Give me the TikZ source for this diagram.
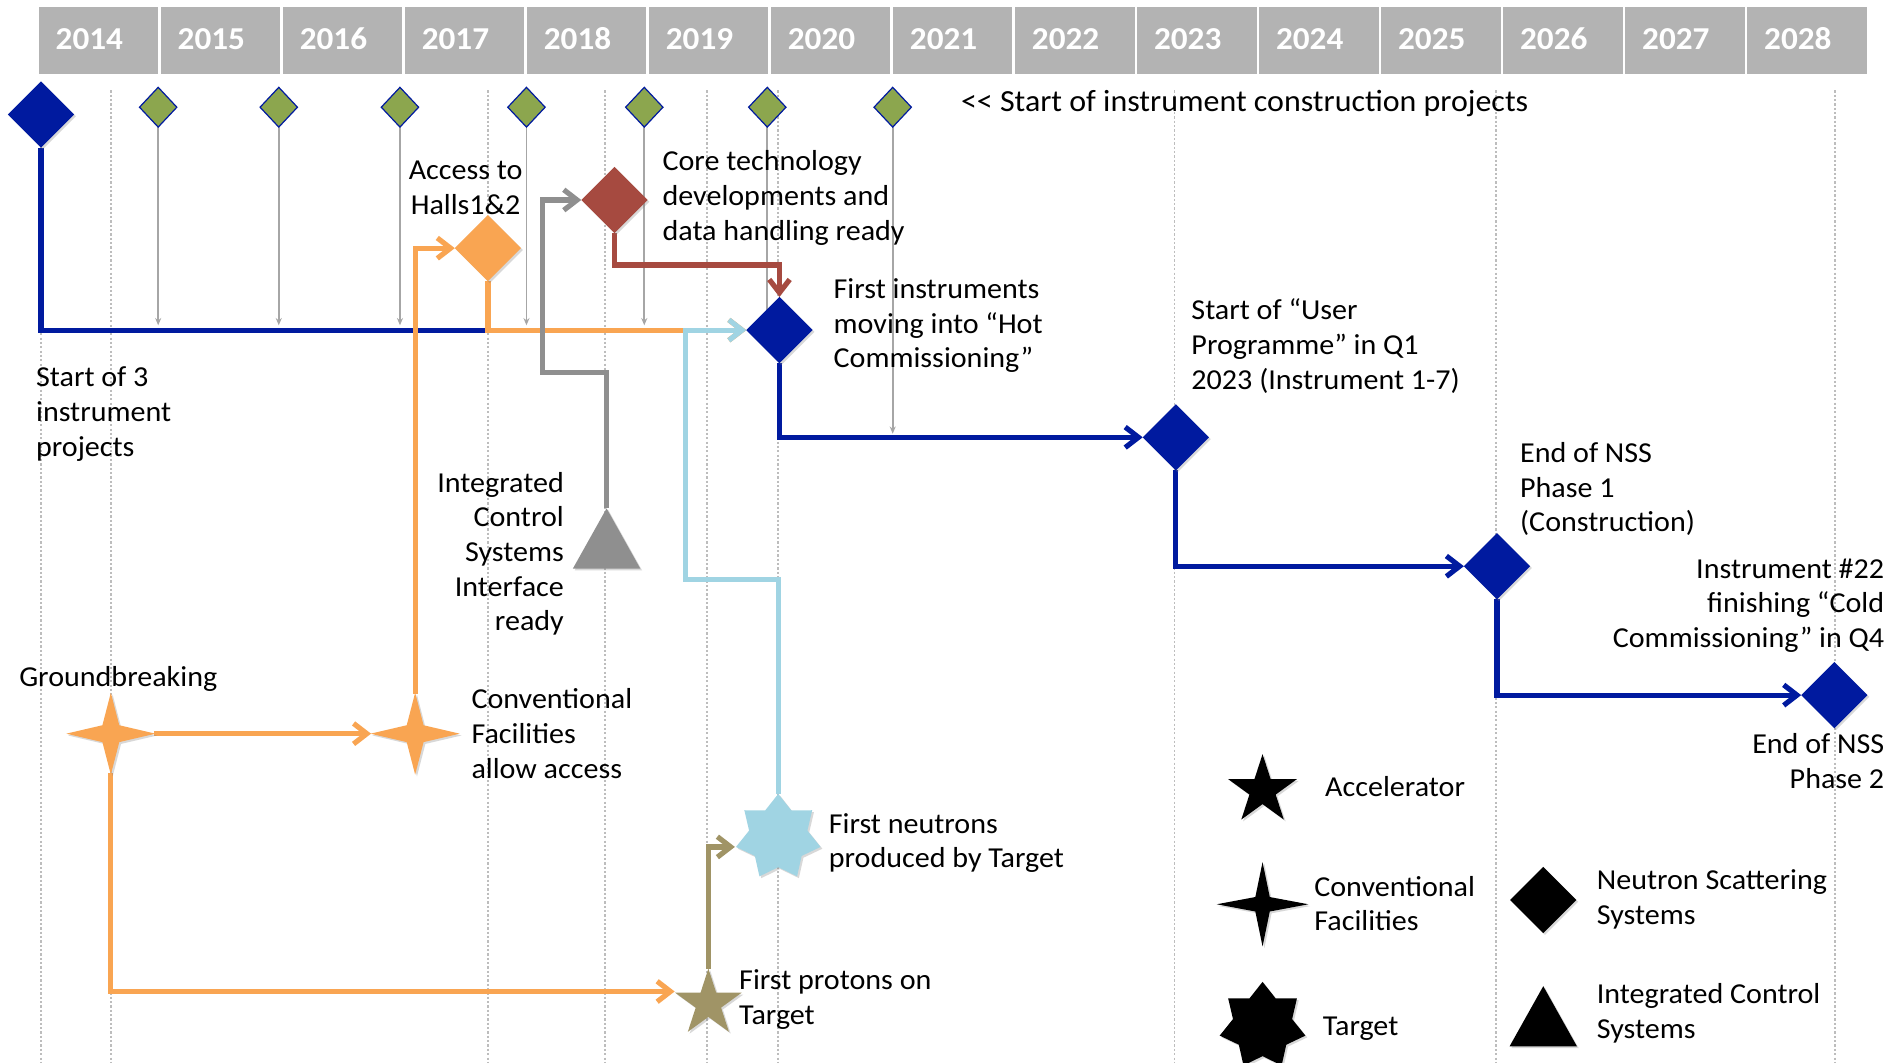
\documentclass[tikz,border=0pt]{standalone}
\usepackage{fontspec}
\setmainfont{Carlito}[FakeStretch=1.04]
\usetikzlibrary{shapes.geometric,arrows.meta,calc,shadows}
\definecolor{nssblue}{HTML}{001A9F}
\definecolor{gdia}{HTML}{8CA64E}
\definecolor{coreRed}{HTML}{A64A40}
\definecolor{cfOrange}{HTML}{F9A552}
\definecolor{tgtBlue}{HTML}{A0D4E3}
\definecolor{accTan}{HTML}{A09466}
\definecolor{icsGray}{HTML}{8F8F8F}
\definecolor{hdrGray}{HTML}{B3B3B3}
\definecolor{gridGray}{HTML}{BDBDBD}
\definecolor{feedGray}{HTML}{A6A6A6}
\pgfdeclarelayer{bglayer}
\pgfdeclarelayer{gridlayer}
\pgfdeclarelayer{linelayer}
\pgfsetlayers{bglayer,gridlayer,linelayer,main}
\begin{document}
\begin{tikzpicture}[x=1pt,y=-1pt,
  shd/.style={drop shadow={opacity=0.3,shadow xshift=1.5pt,shadow yshift=-1.5pt}},
  bigdia/.style={diamond, minimum width=55pt, minimum height=55pt, inner sep=0pt, outer sep=0pt, fill=nssblue, shd},
  smalldia/.style={diamond, minimum width=31pt, minimum height=33pt, inner sep=0pt, outer sep=0pt, fill=gdia, draw=nssblue, line width=1pt},
  starfive/.style={star, star points=5, star point ratio=2.618, minimum size=58pt, inner sep=0pt, outer sep=0pt, shd},
  starseven/.style={star, star points=7, star point ratio=1.45, minimum size=72pt, inner sep=0pt, outer sep=0pt, shd},
  conn/.style={line width=4.3pt, -{Straight Barb[length=11pt,width=17pt]}},
  seg/.style={line width=4.3pt},
  feeder/.style={draw=feedGray, line width=1.5pt, -{Stealth[length=6pt,width=5pt]}},
  gridln/.style={draw=gridGray, line width=1.3pt, dash pattern=on 1.8pt off 1.8pt},
  yeartext/.style={font=\fontsize{26.5}{30}\selectfont\bfseries, text=white, inner sep=0pt},
  lbl/.style={font=\fontsize{24}{28.8}\selectfont, inner sep=0pt, outer sep=0pt}
]
\useasboundingbox (0,0) rectangle (1568,882);
\begin{pgfonlayer}{bglayer}
\fill[white] (0,0) rectangle (1568,882);
\end{pgfonlayer}

% grid
\begin{pgfonlayer}{gridlayer}
\foreach \x in {34,92,405,502,587,646,975,1242,1523}
  \draw[gridln] (\x,75) -- (\x,882);
\end{pgfonlayer}

% header
\foreach \i/\y in {0/2014,1/2015,2/2016,3/2017,4/2018,5/2019,6/2020,7/2021,8/2022,9/2023,10/2024,11/2025,12/2026,13/2027,14/2028} {
  \pgfmathsetmacro\xl{31+101.3*\i+1}
  \pgfmathsetmacro\xr{31+101.3*(\i+1)-1}
  \pgfmathsetmacro\xc{31+101.3*(\i+0.5)-7.5}
  \fill[hdrGray] (\xl,6) rectangle (\xr,61.5);
  \node[yeartext, anchor=base] (yr\y) at (\xc,41) {\y};
}

% green diamonds
\foreach \n/\x in {1/131.3,2/231.4,3/332,4/437,5/534.8,6/636.9,7/741}
  \node[smalldia] (g\n) at (\x,89) {};

% milestone shapes
\node[bigdia] (d14) at (34,95) {};
\node[bigdia] (d20) at (647,274) {};
\node[bigdia] (dUP) at (976,363) {};
\node[bigdia] (dP1) at (1242.6,470) {};
\node[bigdia] (dP2) at (1522.6,577) {};
\node[bigdia, fill=cfOrange] (hall) at (405,206) {};
\node[bigdia, fill=coreRed] (core) at (510,166) {};
\node[starseven, fill=tgtBlue] (neut) at (646,695) {};
\node[starfive, fill=accTan] (fp) at (588,833) {};

% four point stars (conventional facilities)
\coordinate (gb) at (92,609);
\coordinate (cf) at (344.6,609);
\foreach \c in {gb,cf}
  \fill[cfOrange, shd] ($(\c)+(-37,0)$) -- ($(\c)+(-7,-7)$) -- ($(\c)+(0,-34)$) -- ($(\c)+(7,-7)$) -- ($(\c)+(37,0)$) -- ($(\c)+(7,7)$) -- ($(\c)+(0,34)$) -- ($(\c)+(-7,7)$) -- cycle;
% ICS triangle
\coordinate (ics) at (503.5,422);
\fill[icsGray, shd] (ics) -- ($(ics)+(28,50)$) -- ($(ics)+(-28,50)$) -- cycle;

% helper coordinates
\coordinate (bl) at (0,270);
\coordinate (bl2) at (0,360);
\coordinate (j1) at (405,274);
\coordinate (gbR) at (128,609);
\coordinate (gbB) at (92,642);
\coordinate (cfL) at (308,609);
\coordinate (cfT) at (344.6,576);
\coordinate (fpL) at (560,823);
\coordinate (neutL) at (610,703);
\coordinate (gA) at (450,309);
\coordinate (lbA) at (569,481);
\coordinate (rA) at (510,220);

% connectors
\begin{pgfonlayer}{linelayer}
\foreach \n in {1,...,6}
  \draw[feeder] (g\n.south) -- (g\n.south |- bl);
\draw[feeder] (g7.south) -- (g7.south |- bl2);
\draw[seg, nssblue] (d14.south) |- (j1);
\draw[conn, cfOrange] (hall.south) |- (d20.west);
\draw[conn, cfOrange] (cfT) |- (hall.west);
\draw[conn, cfOrange] (gbR) -- (cfL);
\draw[conn, cfOrange] (gbB) |- (fpL);
\draw[conn, icsGray] (ics) |- (gA) |- (core.west);
\draw[conn, tgtBlue] (neut.north) |- (lbA) |- (d20.west);
\draw[conn, coreRed] (core.south) -- (rA) -| (d20.north);
\draw[conn, accTan] (fp.north) |- (neutL);
\draw[conn, nssblue] (d20.south) |- (dUP.west);
\draw[conn, nssblue] (dUP.south) |- (dP1.west);
\draw[conn, nssblue] (dP1.south) |- (dP2.west);
\end{pgfonlayer}

% labels
\node[lbl, font=\fontsize{25.5}{28.8}\selectfont, anchor=north west] (tStart) at (797.7,72.5) {\strut<{}< Start of instrument construction projects};
\node[lbl, anchor=north, align=center] (tHall) at (386.5,128.7) {\strut Access to\\Halls1\&2};
\node[lbl, anchor=north west, align=left] (tCore) at (550,121.5) {\strut Core technology\\developments and\\data handling ready};
\node[lbl, anchor=north west, align=left] (tHot) at (692,227.5) {\strut First instruments\\moving into “Hot\\Commissioning”};
\node[lbl, anchor=north west, align=left] (tUser) at (989,245.3) {\strut Start of “User\\Programme” in Q1\\2023 (Instrument 1-7)};
\node[lbl, anchor=north west, align=left] (t3) at (30,300.8) {\strut Start of 3\\instrument\\projects};
\node[lbl, anchor=north east, align=right] (tICS) at (468,388.4) {\strut Integrated\\Control\\Systems\\Interface\\ready};
\node[lbl, anchor=north west] (tGB) at (16,549.8) {\strut Groundbreaking};
\node[lbl, anchor=north west, align=left] (tCF) at (391.4,568.2) {\strut Conventional\\Facilities\\allow access};
\node[lbl, anchor=north west, align=left] (tNeut) at (688,671.4) {\strut First neutrons\\produced by Target};
\node[lbl, anchor=north west, align=left] (tProt) at (613.6,801.6) {\strut First protons on\\Target};
\node[lbl, anchor=north west, align=left] (tP1) at (1261.8,363.8) {\strut End of NSS\\Phase 1\\(Construction)};
\node[lbl, anchor=north east, align=right] (t22) at (1564,459.8) {\strut Instrument \#22\\finishing “Cold\\Commissioning” in Q4};
\node[lbl, anchor=north east, align=right] (tP2) at (1564,605.4) {\strut End of NSS\\Phase 2};

% legend
\node[starfive, fill=black, minimum size=60pt] (lgAcc) at (1048,656) {};
\coordinate (lgCF) at (1048,750.6);
\fill[black, shd] ($(lgCF)+(-38,0)$) -- ($(lgCF)+(-6,-6)$) -- ($(lgCF)+(0,-35)$) -- ($(lgCF)+(6,-6)$) -- ($(lgCF)+(38,0)$) -- ($(lgCF)+(6,6)$) -- ($(lgCF)+(0,35)$) -- ($(lgCF)+(-6,6)$) -- cycle;
\node[starseven, fill=black, minimum size=73pt] (lgTgt) at (1048,851.5) {};
\node[bigdia, fill=black] (lgNSS) at (1281,747) {};
\coordinate (lgICS) at (1281,818.6);
\fill[black, shd] (lgICS) -- ($(lgICS)+(28,50)$) -- ($(lgICS)+(-28,50)$) -- cycle;
\node[lbl, anchor=north west] (lAcc) at (1100,640.6) {\strut Accelerator};
\node[lbl, anchor=north west, align=left] (lCF) at (1091,723.8) {\strut Conventional\\Facilities};
\node[lbl, anchor=north west] (lTgt) at (1098,839.4) {\strut Target};
\node[lbl, anchor=north west, align=left] (lNSS) at (1325.5,718.3) {\strut Neutron Scattering\\Systems};
\node[lbl, anchor=north west, align=left] (lICS) at (1325.5,812.8) {\strut Integrated Control\\Systems};
\end{tikzpicture}
\end{document}
